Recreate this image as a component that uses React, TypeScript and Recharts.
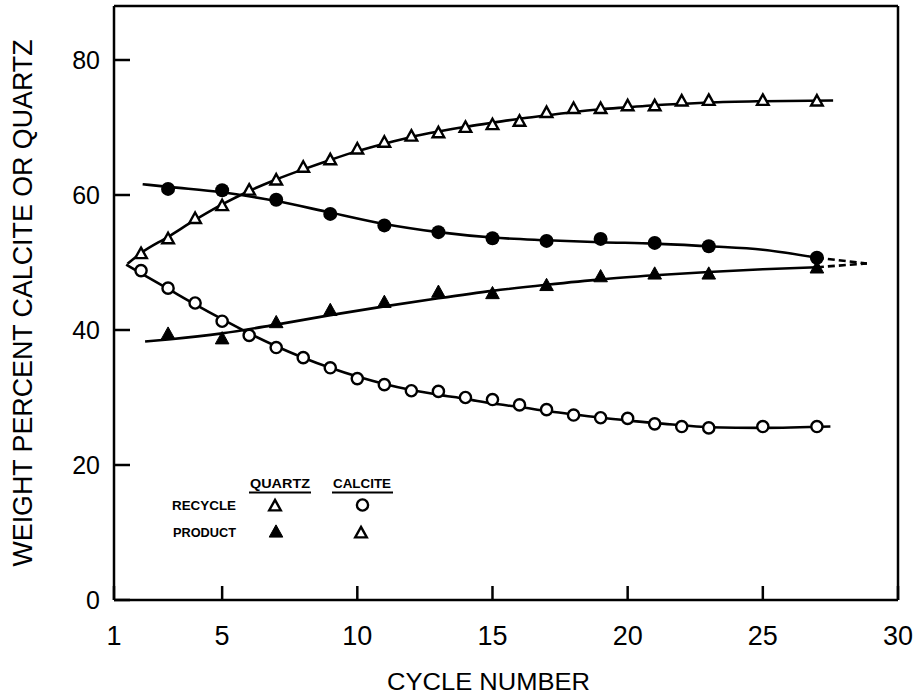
import React from 'react';
import {
  ComposedChart,
  Line,
  Scatter,
  XAxis,
  YAxis,
} from 'recharts';

// cycles at which each kind of sample was taken
const recycleCycles = [2, 3, 4, 5, 6, 7, 8, 9, 10, 11, 12, 13, 14, 15, 16, 17, 18, 19, 20, 21, 22, 23, 25, 27];
const productCycles = [3, 5, 7, 9, 11, 13, 15, 17, 19, 21, 23, 27];

// measured weight percent
const quartzRecycle = [51.3, 53.5, 56.5, 58.4, 60.7, 62.2, 64.1, 65.2, 66.8, 67.8, 68.7, 69.2, 70.0, 70.4, 70.9, 72.2, 72.8, 72.8, 73.2, 73.2, 73.9, 74.0, 74.0, 73.9];
const calciteRecycle = [48.8, 46.2, 44.0, 41.3, 39.2, 37.4, 35.9, 34.4, 32.8, 31.9, 31.0, 30.9, 30.0, 29.7, 28.9, 28.2, 27.4, 27.0, 26.9, 26.1, 25.7, 25.5, 25.7, 25.7];
const calciteProduct = [60.9, 60.7, 59.3, 57.2, 55.5, 54.5, 53.6, 53.2, 53.5, 52.9, 52.4, 50.7];
const quartzProduct = [39.4, 38.7, 41.1, 42.9, 44.1, 45.6, 45.4, 46.6, 47.9, 48.3, 48.3, 49.2];

// hand drawn fitted curves
const quartzRecycleFit: [number, number][] = [
  [1.5, 49.8], [2, 51.4], [3, 53.8], [4, 56.3], [5, 58.6], [6, 60.6], [7, 62.3], [8, 63.8],
  [9, 65.2], [10, 66.5], [11, 67.6], [12, 68.6], [13, 69.4], [14, 70.1], [15, 70.7], [16, 71.3],
  [17, 71.8], [18, 72.3], [19, 72.7], [20, 73.0], [21, 73.3], [22, 73.5], [23, 73.7], [25, 73.9], [27.6, 74.0],
];
const calciteRecycleFit: [number, number][] = [
  [1.45, 49.7], [2, 48.4], [3, 46.1], [4, 43.8], [5, 41.6], [6, 39.5], [7, 37.6], [8, 35.9],
  [9, 34.4], [10, 33.1], [11, 32.0], [12, 31.1], [13, 30.4], [14, 29.8], [15, 29.1], [16, 28.6],
  [17, 28.0], [18, 27.5], [19, 27.0], [20, 26.6], [21, 26.2], [22, 25.9], [23, 25.6], [25, 25.5], [27.5, 25.7],
];
const calciteProductFit: [number, number][] = [
  [2.06, 61.6], [3, 61.2], [5, 60.4], [7, 59.1], [9, 57.4], [11, 55.7], [13, 54.5], [15, 53.7],
  [17, 53.3], [19, 53.0], [21, 52.8], [23, 52.4], [25, 51.9], [27, 50.7],
];
const quartzProductFit: [number, number][] = [
  [2.15, 38.3], [3, 38.6], [5, 39.5], [7, 40.8], [9, 42.2], [11, 43.5], [13, 44.7], [15, 45.8],
  [17, 46.7], [19, 47.5], [21, 48.1], [23, 48.6], [25, 49.0], [27, 49.3],
];
// dashed extrapolation to the meeting point
const calciteProductExt: [number, number][] = [[27, 50.7], [28.85, 49.85]];
const quartzProductExt: [number, number][] = [[27, 49.3], [28.85, 49.85]];

const xTicks = [1, 5, 10, 15, 20, 25, 30];
const xTopTicks = [5, 10, 15, 20, 25];
const yTicks = [0, 20, 40, 60, 80];

const toPoints = (xs: number[], ys: number[]) => xs.map((x, i) => ({ x, y: ys[i] }));
const fromPairs = (pairs: [number, number][]) => pairs.map(([x, y]) => ({ x, y }));

const INK = '#000';
const FONT = '"Liberation Sans", Arial, sans-serif';

const triPoints = (cx: number, cy: number, s: number) =>
  `${cx},${cy - s * 1.05} ${cx + s},${cy + s * 0.75} ${cx - s},${cy + s * 0.75}`;

const OpenTriangle = ({ cx, cy }: any) => (
  <polygon points={triPoints(cx, cy, 5.8)} fill="#fff" stroke={INK} strokeWidth={2.4} strokeLinejoin="miter" />
);
const FilledTriangle = ({ cx, cy }: any) => (
  <polygon points={triPoints(cx, cy, 6.8)} fill={INK} stroke={INK} strokeWidth={1} />
);
const OpenCircle = ({ cx, cy }: any) => (
  <circle cx={cx} cy={cy} r={5.6} fill="#fff" stroke={INK} strokeWidth={2.4} />
);
const FilledCircle = ({ cx, cy }: any) => <circle cx={cx} cy={cy} r={7} fill={INK} />;

const fitLine = (data: { x: number; y: number }[], key: string, dashed = false) => (
  <Line
    key={key}
    data={data}
    dataKey="y"
    type="monotone"
    stroke={INK}
    strokeWidth={2.6}
    strokeDasharray={dashed ? '7 4' : undefined}
    dot={false}
    activeDot={false}
    isAnimationActive={false}
    legendType="none"
  />
);

export default function App() {
  const axisStroke = { stroke: INK, strokeWidth: 2.5 };
  return (
    <div style={{ position: 'absolute', left: 0, top: 0, width: 917, height: 697, background: '#fff' }}>
      <ComposedChart width={917} height={697} margin={{ top: 5, right: 18, bottom: 0, left: 0 }}>
        <XAxis
          dataKey="x"
          type="number"
          domain={[1, 30]}
          ticks={xTicks}
          allowDataOverflow
          height={97}
          tickSize={-14}
          tickMargin={40}
          axisLine={axisStroke}
          tickLine={axisStroke}
          tick={{ fontFamily: FONT, fontSize: 27, fill: INK }}
        />
        <XAxis
          xAxisId="top"
          orientation="top"
          dataKey="x"
          type="number"
          domain={[1, 30]}
          ticks={xTopTicks}
          allowDataOverflow
          height={1}
          tickSize={-10}
          axisLine={axisStroke}
          tickLine={axisStroke}
          tick={false}
        />
        <YAxis
          dataKey="y"
          type="number"
          domain={[0, 88]}
          ticks={yTicks}
          allowDataOverflow
          width={114}
          tickSize={-16}
          tickMargin={30}
          axisLine={axisStroke}
          tickLine={axisStroke}
          tick={{ fontFamily: FONT, fontSize: 25, fill: INK }}
        />
        <YAxis
          yAxisId="right"
          orientation="right"
          dataKey="y"
          type="number"
          domain={[0, 88]}
          ticks={[20, 40, 60, 80]}
          allowDataOverflow
          width={1}
          tickSize={-15}
          axisLine={axisStroke}
          tickLine={axisStroke}
          tick={false}
        />
        {fitLine(fromPairs(quartzRecycleFit), 'qrf')}
        {fitLine(fromPairs(calciteRecycleFit), 'crf')}
        {fitLine(fromPairs(calciteProductFit), 'cpf')}
        {fitLine(fromPairs(quartzProductFit), 'qpf')}
        {fitLine(fromPairs(calciteProductExt), 'cpe', true)}
        {fitLine(fromPairs(quartzProductExt), 'qpe', true)}
        <Scatter data={toPoints(recycleCycles, quartzRecycle)} shape={OpenTriangle} isAnimationActive={false} />
        <Scatter data={toPoints(recycleCycles, calciteRecycle)} shape={OpenCircle} isAnimationActive={false} />
        <Scatter data={toPoints(productCycles, calciteProduct)} shape={FilledCircle} isAnimationActive={false} />
        <Scatter data={toPoints(productCycles, quartzProduct)} shape={FilledTriangle} isAnimationActive={false} />
      </ComposedChart>

      {/* axis titles and the key, laid over the chart */}
      <svg
        width={917}
        height={697}
        style={{ position: 'absolute', left: 0, top: 0, pointerEvents: 'none' }}
      >
        <text
          transform="translate(31.5,303) rotate(-90)"
          textAnchor="middle"
          fontFamily={FONT}
          fontSize={28}
          fill={INK}
          textLength={527}
          lengthAdjust="spacingAndGlyphs"
        >
          WEIGHT PERCENT CALCITE OR QUARTZ
        </text>
        <text
          x={387}
          y={690}
          fontFamily={FONT}
          fontSize={24}
          fill={INK}
          textLength={203}
          lengthAdjust="spacingAndGlyphs"
        >
          CYCLE NUMBER
        </text>

        <g fontFamily={FONT} fontWeight="bold" fontSize={13} fill={INK}>
          <text x={250} y={488} textLength={60} lengthAdjust="spacingAndGlyphs">QUARTZ</text>
          <text x={333} y={488} textLength={58} lengthAdjust="spacingAndGlyphs">CALCITE</text>
          <text x={172} y={510} textLength={64} lengthAdjust="spacingAndGlyphs">RECYCLE</text>
          <text x={173} y={537} textLength={63} lengthAdjust="spacingAndGlyphs">PRODUCT</text>
        </g>
        <line x1={249} x2={311} y1={492.5} y2={492.5} stroke={INK} strokeWidth={2} />
        <line x1={332} x2={393} y1={492.5} y2={492.5} stroke={INK} strokeWidth={2} />
        <OpenTriangle cx={275} cy={506} />
        <OpenCircle cx={362.5} cy={505} />
        <FilledTriangle cx={276} cy={532} />
        <OpenTriangle cx={361} cy={533} />
      </svg>
    </div>
  );
}
